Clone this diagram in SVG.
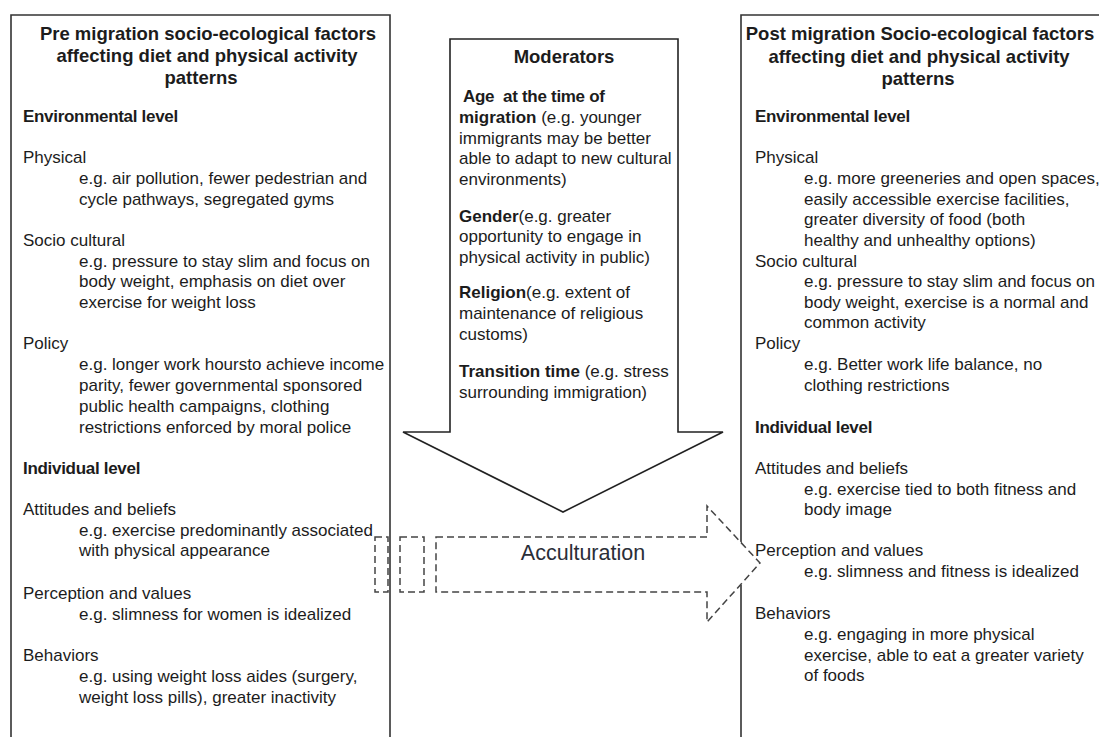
<svg xmlns="http://www.w3.org/2000/svg" width="1099" height="737" viewBox="0 0 1099 737">
<style>
text{font-family:"Liberation Sans",Arial,sans-serif;fill:#1c1c1c;font-size:17px}
.t{font-weight:bold;font-size:18.5px;text-anchor:middle}
.h{font-weight:bold;letter-spacing:-0.3px}
.b{font-weight:bold}
.box{fill:none;stroke:#333;stroke-width:1.6}
.dash{fill:#fff;stroke:#444;stroke-width:1.5;stroke-dasharray:7 4}
</style>
<rect width="1099" height="737" fill="#fff"/>
<g id="post-box">
<path class="box" d="M741,543 V15 H1101 M741,585 V740"/>
<text class="t" x="920" y="40">Post migration Socio-ecological factors</text>
<text class="t" x="919" y="63">affecting diet and physical activity</text>
<text class="t" x="918" y="85">patterns</text>
<text class="h" x="755" y="122">Environmental level</text>
<text x="755" y="163">Physical</text>
<text x="804" y="184">e.g. more greeneries and open spaces,</text>
<text x="804" y="205">easily accessible exercise facilities,</text>
<text x="804" y="225">greater diversity of food (both</text>
<text x="804" y="246">healthy and unhealthy options)</text>
<text x="755" y="267">Socio cultural</text>
<text x="804" y="287">e.g. pressure to stay slim and focus on</text>
<text x="804" y="308">body weight, exercise is a normal and</text>
<text x="804" y="328">common activity</text>
<text x="755" y="349">Policy</text>
<text x="804" y="370">e.g. Better work life balance, no</text>
<text x="804" y="391">clothing restrictions</text>
<text class="h" x="755" y="433">Individual level</text>
<text x="755" y="474">Attitudes and beliefs</text>
<text x="804" y="495">e.g. exercise tied to both fitness and</text>
<text x="804" y="515">body image</text>
<text x="755" y="556">Perception and values</text>
<text x="804" y="577">e.g. slimness and fitness is idealized</text>
<text x="755" y="619">Behaviors</text>
<text x="804" y="640">e.g. engaging in more physical</text>
<text x="804" y="661">exercise, able to eat a greater variety</text>
<text x="804" y="681">of foods</text>
</g>
<g id="connectors">
<g id="acculturation">
<polygon class="dash" points="436,537 707,537 707,506 760,563 707,622 707,592 436,592"/>
<rect class="dash" x="400" y="537" width="24" height="55"/>
<rect class="dash" x="375" y="537" width="13" height="55"/>
<text x="583" y="560" style="font-size:21.5px;text-anchor:middle;fill:#2a2e38">Acculturation</text>
</g>
</g>
<g id="pre-box">
<path class="box" d="M11,740 V15 H390 V740"/>
<text class="t" x="208" y="40">Pre migration socio-ecological factors</text>
<text class="t" x="207" y="62">affecting diet and physical activity</text>
<text class="t" x="201" y="84">patterns</text>
<text class="h" x="23" y="122">Environmental level</text>
<text x="23" y="163">Physical</text>
<text x="79" y="184">e.g. air pollution, fewer pedestrian and</text>
<text x="79" y="205">cycle pathways, segregated gyms</text>
<text x="23" y="246">Socio cultural</text>
<text x="79" y="267">e.g. pressure to stay slim and focus on</text>
<text x="79" y="287">body weight, emphasis on diet over</text>
<text x="79" y="308">exercise for weight loss</text>
<text x="23" y="349">Policy</text>
<text x="79" y="370">e.g. longer work hoursto achieve income</text>
<text x="79" y="391">parity, fewer governmental sponsored</text>
<text x="79" y="412">public health campaigns, clothing</text>
<text x="79" y="433">restrictions enforced by moral police</text>
<text class="h" x="23" y="474">Individual level</text>
<text x="23" y="515">Attitudes and beliefs</text>
<text x="79" y="536">e.g. exercise predominantly associated</text>
<text x="79" y="556">with physical appearance</text>
<text x="23" y="599">Perception and values</text>
<text x="79" y="620">e.g. slimness for women is idealized</text>
<text x="23" y="661">Behaviors</text>
<text x="79" y="682">e.g. using weight loss aides (surgery,</text>
<text x="79" y="703">weight loss pills), greater inactivity</text>
</g>
<g id="moderators">
<polygon points="450,39 678,39 678,432 723,432 563,512 403,432 450,432" fill="#fff" stroke="#222" stroke-width="1.6"/>
<text class="t" x="564" y="63">Moderators</text>
<text class="h" x="463" y="102">Age&#160; at the time of</text>
<text x="459" y="123"><tspan class="b">migration</tspan> (e.g. younger</text>
<text x="459" y="144">immigrants may be better</text>
<text x="459" y="164">able to adapt to new cultural</text>
<text x="459" y="185">environments)</text>
<text x="459" y="222"><tspan class="b">Gender</tspan>(e.g. greater</text>
<text x="459" y="242">opportunity to engage in</text>
<text x="459" y="263">physical activity in public)</text>
<text x="459" y="298"><tspan class="b">Religion</tspan>(e.g. extent of</text>
<text x="459" y="319">maintenance of religious</text>
<text x="459" y="340">customs)</text>
<text x="459" y="377"><tspan class="b">Transition time</tspan> (e.g. stress</text>
<text x="459" y="398">surrounding immigration)</text>
</g>
</svg>
